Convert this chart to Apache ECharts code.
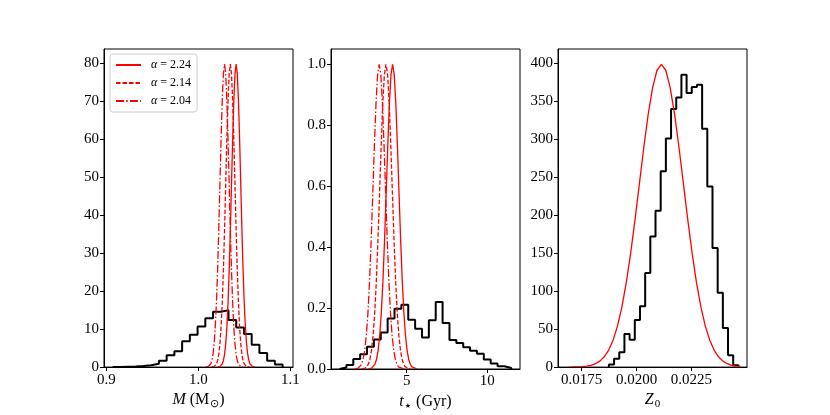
<!DOCTYPE html>
<html>
<head>
<meta charset="utf-8">
<script src="https://cdn.jsdelivr.net/npm/echarts@6.0.0/dist/echarts.min.js"></script>
<style>
html,body{margin:0;padding:0;background:#ffffff;}
#chart{width:830px;height:415px;}
</style>
</head>
<body>
<div id="chart"></div>
<script>
// ---------------- data ----------------
// Panel 1: mass histogram (density) and three model curves
const mEdges = [0.9067, 0.9151, 0.9235, 0.9319, 0.9403, 0.9487, 0.9571, 0.9655, 0.9739, 0.9823, 0.9907, 0.9991, 1.0075, 1.0159, 1.0243, 1.0327, 1.0411, 1.0495, 1.0579, 1.0663, 1.0747, 1.0831, 1.0915];
const mDensity = [0.05, 0.1, 0.15, 0.3, 0.5, 0.9, 1.7, 3.1, 4.2, 6.8, 8.5, 10.7, 12.9, 14.6, 15.0, 12.4, 10.4, 8.7, 5.9, 3.7, 1.7, 0.7];
const mCurveY = [0.03, 0.17, 0.41, 0.89, 1.82, 3.5, 6.35, 10.8, 17.3, 25.9, 36.5, 48.4, 60.2, 70.4, 77.3, 79.8, 77.3, 70.4, 60.2, 48.4, 36.5, 25.9, 17.3, 10.8, 6.35, 3.5, 1.82, 0.89, 0.41, 0.17, 0.03];
const mCurveX224 = [1.0210, 1.0235, 1.02475, 1.0260, 1.02725, 1.0285, 1.02975, 1.0310, 1.03225, 1.0335, 1.03475, 1.0360, 1.03725, 1.0385, 1.03975, 1.0410, 1.04225, 1.0435, 1.04475, 1.0460, 1.04725, 1.0485, 1.04975, 1.0510, 1.05225, 1.0535, 1.05475, 1.0560, 1.05725, 1.0585, 1.0610];
const mCurveX214 = [1.0147, 1.0172, 1.01845, 1.0197, 1.02095, 1.0222, 1.02345, 1.0247, 1.02595, 1.0272, 1.02845, 1.0297, 1.03095, 1.0322, 1.03345, 1.0347, 1.03595, 1.0372, 1.03845, 1.0397, 1.04095, 1.0422, 1.04345, 1.0447, 1.04595, 1.0472, 1.04845, 1.0497, 1.05095, 1.0522, 1.0547];
const mCurveX204 = [1.0084, 1.0109, 1.01215, 1.0134, 1.01465, 1.0159, 1.01715, 1.0184, 1.01965, 1.0209, 1.02215, 1.0234, 1.02465, 1.0259, 1.02715, 1.0284, 1.02965, 1.0309, 1.03215, 1.0334, 1.03465, 1.0359, 1.03715, 1.0384, 1.03965, 1.0409, 1.04215, 1.0434, 1.04465, 1.0459, 1.0484];

// Panel 2: age histogram (density) and three model curves
const tEdges = [0.84, 1.266, 1.692, 2.118, 2.544, 2.97, 3.396, 3.822, 4.248, 4.674, 5.1, 5.526, 5.952, 6.378, 6.804, 7.23, 7.656, 8.082, 8.508, 8.934, 9.36, 9.786, 10.212, 10.638, 11.064, 11.49];
const tDensity = [0.005, 0.013, 0.033, 0.048, 0.073, 0.097, 0.12, 0.166, 0.198, 0.211, 0.162, 0.132, 0.103, 0.16, 0.22, 0.151, 0.095, 0.085, 0.071, 0.06, 0.05, 0.031, 0.018, 0.009, 0.003];
const tCurveY = [0.0004, 0.0029, 0.0068, 0.0151, 0.0313, 0.0605, 0.109, 0.1833, 0.2875, 0.421, 0.575, 0.732, 0.871, 0.966, 1.0, 0.966, 0.871, 0.732, 0.575, 0.421, 0.2875, 0.1833, 0.109, 0.0605, 0.0313, 0.0151, 0.0068, 0.0029, 0.0004];
const tCurveX224 = [2.63, 2.83, 2.93, 3.03, 3.13, 3.23, 3.33, 3.43, 3.53, 3.63, 3.73, 3.83, 3.93, 4.03, 4.13, 4.23, 4.33, 4.43, 4.53, 4.63, 4.73, 4.83, 4.93, 5.03, 5.13, 5.23, 5.33, 5.43, 5.63];
const tCurveX214 = [2.22, 2.42, 2.52, 2.62, 2.72, 2.82, 2.92, 3.02, 3.12, 3.22, 3.32, 3.42, 3.52, 3.62, 3.72, 3.82, 3.92, 4.02, 4.12, 4.22, 4.32, 4.42, 4.52, 4.62, 4.72, 4.82, 4.92, 5.02, 5.22];
const tCurveX204 = [1.80, 2.00, 2.10, 2.20, 2.30, 2.40, 2.50, 2.60, 2.70, 2.80, 2.90, 3.00, 3.10, 3.20, 3.30, 3.40, 3.50, 3.60, 3.70, 3.80, 3.90, 4.00, 4.10, 4.20, 4.30, 4.40, 4.50, 4.60, 4.80];

// Panel 3: initial metallicity histogram (density) and prior curve
const zEdges = [0.018740, 0.018976, 0.019212, 0.019447, 0.019683, 0.019919, 0.020155, 0.020391, 0.020626, 0.020862, 0.021098, 0.021334, 0.021570, 0.021805, 0.022041, 0.022277, 0.022513, 0.022749, 0.022984, 0.023220, 0.023456, 0.023692, 0.023928, 0.024163, 0.024399, 0.024635];
const zDensity = [3.5, 11, 19.7, 43.7, 36, 62, 80, 124, 172, 206, 258, 301, 340, 355, 385, 361, 369, 372, 314, 238, 157, 98, 51.5, 15.7, 2.6];
const zCurveX = [0.01693, 0.01713, 0.01733, 0.01753, 0.01773, 0.01793, 0.01813, 0.01833, 0.01853, 0.01873, 0.01893, 0.01913, 0.01933, 0.01953, 0.01973, 0.01993, 0.02013, 0.02033, 0.02053, 0.02073, 0.02093, 0.02113, 0.02133, 0.02153, 0.02173, 0.02193, 0.02213, 0.02233, 0.02253, 0.02273, 0.02293, 0.02313, 0.02333, 0.02353, 0.02373, 0.02393, 0.02413, 0.02433, 0.02453, 0.02473];
const zCurveY = [0.059, 0.13, 0.29, 0.61, 1.23, 2.38, 4.43, 7.9, 13.6, 22.4, 35.5, 54.0, 78.9, 110.9, 149.7, 194.2, 241.9, 289.6, 333.2, 368.2, 391.0, 398.9, 391.0, 368.2, 333.2, 289.6, 241.9, 194.2, 149.7, 110.9, 78.9, 54.0, 35.5, 22.4, 13.6, 7.9, 4.43, 2.38, 1.23, 0.61];

// Tick values and legend labels
const mXTicks = [0.9, 1.0, 1.1];
const mYTicks = [0, 10, 20, 30, 40, 50, 60, 70, 80];
const tXTicks = [5, 10];
const tYTicks = [0, 0.2, 0.4, 0.6, 0.8, 1.0];
const zXTicks = [0.0175, 0.0200, 0.0225];
const zYTicks = [0, 50, 100, 150, 200, 250, 300, 350, 400];
const seriesNames = ['α = 2.24', 'α = 2.14', 'α = 2.04'];

// ---------------- chart ----------------
const FONT = 'Liberation Serif';
const RED = '#ff0000';
const DASHED = [4.5, 2];
const DASHDOT = [8, 2.2, 1.5, 2.2];

function histData(edges, counts) {
  const d = [[edges[0], 0]];
  for (let i = 0; i < counts.length; i++) d.push([edges[i + 1], counts[i]]);
  d.push([edges[edges.length - 1], 0]);
  return d;
}
function pairs(xs, ys) { return xs.map((x, i) => [x, ys[i]]); }

const nameStyle = {
  fontFamily: FONT, fontSize: 16, color: '#000',
  rich: {
    i: { fontFamily: FONT, fontSize: 16, fontStyle: 'italic', color: '#000' },
    r: { fontFamily: FONT, fontSize: 16, color: '#000' },
    s: { fontFamily: FONT, fontSize: 11, color: '#000', padding: [9, 0, 0, 1] },
    st: { fontFamily: 'DejaVu Sans', fontSize: 7, color: '#000', padding: [9, 1, 0, 1] }
  }
};

function xAx(idx, min, max, ticks, fmt, name) {
  return {
    type: 'value', gridIndex: idx, min: min, max: max, z: 5,
    splitLine: { show: false },
    axisLine: { show: true, onZero: false, lineStyle: { color: '#000', width: 1 } },
    axisTick: { show: true, length: 4, inside: false, customValues: ticks, lineStyle: { color: '#000', width: 1 } },
    axisLabel: { customValues: ticks, formatter: fmt, margin: 5, color: '#000', fontFamily: FONT, fontSize: 15 },
    name: name, nameLocation: 'middle', nameGap: 19, nameTextStyle: nameStyle
  };
}
function yAx(idx, max, ticks, fmt) {
  return {
    type: 'value', gridIndex: idx, min: 0, max: max, z: 5,
    splitLine: { show: false },
    axisLine: { show: true, onZero: false, lineStyle: { color: '#000', width: 1 } },
    axisTick: { show: true, length: 4, inside: false, customValues: ticks, lineStyle: { color: '#000', width: 1 } },
    axisLabel: { customValues: ticks, formatter: fmt, margin: 5, color: '#000', fontFamily: FONT, fontSize: 15 }
  };
}
function histSeries(idx, edges, counts) {
  return {
    type: 'line', xAxisIndex: idx, yAxisIndex: idx, step: 'start', symbol: 'none',
    data: histData(edges, counts), z: 2, silent: true,
    lineStyle: { color: '#000', width: 2 }, itemStyle: { color: '#000' }
  };
}
function curveSeries(idx, name, xs, ys, dash) {
  const s = {
    type: 'line', xAxisIndex: idx, yAxisIndex: idx, symbol: 'none', showSymbol: false,
    data: pairs(xs, ys), z: 3, silent: true,
    lineStyle: { color: RED, width: 1.3, type: dash }, itemStyle: { color: RED }
  };
  if (name) s.name = name;
  return s;
}

const chart = echarts.init(document.getElementById('chart'), null, { renderer: 'canvas' });
chart.setOption({
  animation: false,
  backgroundColor: '#ffffff',
  grid: [
    { left: 104, top: 49, width: 189, height: 320, show: true, borderColor: '#000', borderWidth: 1, backgroundColor: 'transparent' },
    { left: 331, top: 49, width: 189, height: 320, show: true, borderColor: '#000', borderWidth: 1, backgroundColor: 'transparent' },
    { left: 558, top: 49, width: 189, height: 320, show: true, borderColor: '#000', borderWidth: 1, backgroundColor: 'transparent' }
  ],
  legend: {
    show: true, orient: 'vertical', left: 110, top: 54,
    data: seriesNames, selectedMode: false,
    itemWidth: 25, itemHeight: 10, itemGap: 6,
    padding: [5, 6, 5, 5],
    itemStyle: { opacity: 0, borderWidth: 0 },
    backgroundColor: 'rgba(255,255,255,0.8)', borderColor: '#cccccc', borderWidth: 1, borderRadius: 3,
    textStyle: {
      fontFamily: FONT, fontSize: 12, color: '#000', padding: [0, 0, 0, 5],
      rich: { a: { fontFamily: FONT, fontSize: 12, fontStyle: 'italic', color: '#000' } }
    },
    formatter: function (n) { return '{a|α}' + n.slice(1); }
  },
  xAxis: [
    xAx(0, 0.8974, 1.1028, mXTicks, v => v.toFixed(1), '{i|M}{r| (M}{s|⊙}{r|)}'),
    xAx(1, 0.31, 12.03, tXTicks, v => String(Math.round(v)), '{i|t}{st|★}{r| (Gyr)}'),
    xAx(2, 0.016423, 0.025027, zXTicks, v => v.toFixed(4), '{i|Z}{s|0}')
  ],
  yAxis: [
    yAx(0, 83.8, mYTicks, v => String(Math.round(v))),
    yAx(1, 1.05, tYTicks, v => v.toFixed(1)),
    yAx(2, 419, zYTicks, v => String(Math.round(v)))
  ],
  series: [
    histSeries(0, mEdges, mDensity),
    curveSeries(0, seriesNames[0], mCurveX224, mCurveY, 'solid'),
    curveSeries(0, seriesNames[1], mCurveX214, mCurveY, DASHED),
    curveSeries(0, seriesNames[2], mCurveX204, mCurveY, DASHDOT),
    histSeries(1, tEdges, tDensity),
    curveSeries(1, null, tCurveX224, tCurveY, 'solid'),
    curveSeries(1, null, tCurveX214, tCurveY, DASHED),
    curveSeries(1, null, tCurveX204, tCurveY, DASHDOT),
    histSeries(2, zEdges, zDensity),
    curveSeries(2, null, zCurveX, zCurveY, 'solid')
  ]
});
</script>
</body>
</html>
